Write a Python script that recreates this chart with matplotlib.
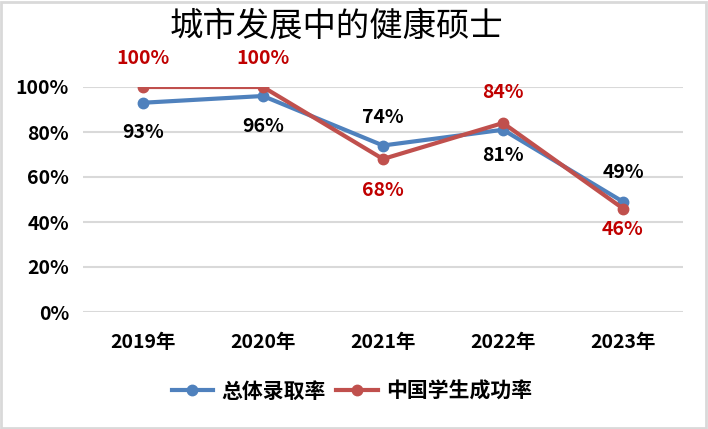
import matplotlib
matplotlib.use("Agg")
import matplotlib.pyplot as plt
from matplotlib.patches import Rectangle
from matplotlib.ticker import FuncFormatter

plt.rcParams['font.family'] = ['Noto Sans CJK SC', 'DejaVu Sans']

years = ['2019年', '2020年', '2021年', '2022年', '2023年']
overall = [0.93, 0.96, 0.74, 0.81, 0.49]
chinese = [1.00, 1.00, 0.68, 0.84, 0.46]
title = '城市发展中的健康硕士'
names = ['总体录取率', '中国学生成功率']

# label offsets in pixels (positive = above)
overall_off = [-30, -31, 28, -26, 29]
chinese_off = [29, 29, -31, 30, -21]

fig = plt.figure(figsize=(7.08, 4.29), dpi=100)
fig.patches.append(Rectangle((0.002, 0.003), 0.995, 0.993, transform=fig.transFigure,
                             fill=False, edgecolor='#d9d9d9', linewidth=2))
ax = fig.add_axes([83/708, 1-312/429, 600/708, 225/429])
x = list(range(len(years)))
blue = '#4f81bd'
red = '#c0504d'
ax.plot(x, overall, color=blue, lw=3, marker='o', ms=7.5, label=names[0], zorder=3)
ax.plot(x, chinese, color=red, lw=3, marker='o', ms=7.5, label=names[1], zorder=4)

for xi, v, o in zip(x, overall, overall_off):
    ax.annotate(f'{round(v*100)}%', (xi, v), xytext=(0, o), textcoords='offset pixels',
                ha='center', va='center', fontsize=14, fontweight='bold', color='black')
for xi, v, o in zip(x, chinese, chinese_off):
    ax.annotate(f'{round(v*100)}%', (xi, v), xytext=(0, o), textcoords='offset pixels',
                ha='center', va='center', fontsize=14, fontweight='bold', color='#c00000')

ax.set_xlim(-0.5, 4.5)
ax.set_ylim(0, 1.0)
ax.set_yticks([0, 0.2, 0.4, 0.6, 0.8, 1.0])
ax.yaxis.set_major_formatter(FuncFormatter(lambda v, _: f'{round(v*100)}%'))
ax.set_xticks(x)
ax.set_xticklabels(years)
ax.grid(axis='y', color='#d9d9d9', lw=1.5)
ax.set_axisbelow(True)
for s in ax.spines.values():
    s.set_visible(False)
ax.tick_params(axis='both', length=0, labelsize=14)
ax.tick_params(axis='y', pad=10)
ax.tick_params(axis='x', pad=15)
for lab in ax.get_xticklabels() + ax.get_yticklabels():
    lab.set_fontweight('bold')
ax.set_clip_on(False)

fig.text(337/708, 1-26/429, title, ha='center', va='center', fontsize=24)
leg = fig.legend(loc='center', bbox_to_anchor=(352/708, 1-391/429), ncol=2, frameon=False,
                 prop={'size': 15, 'weight': 'bold'}, handlelength=2.0, columnspacing=0.5,
                 handletextpad=0.4)
fig.savefig('out.png', dpi=100)
